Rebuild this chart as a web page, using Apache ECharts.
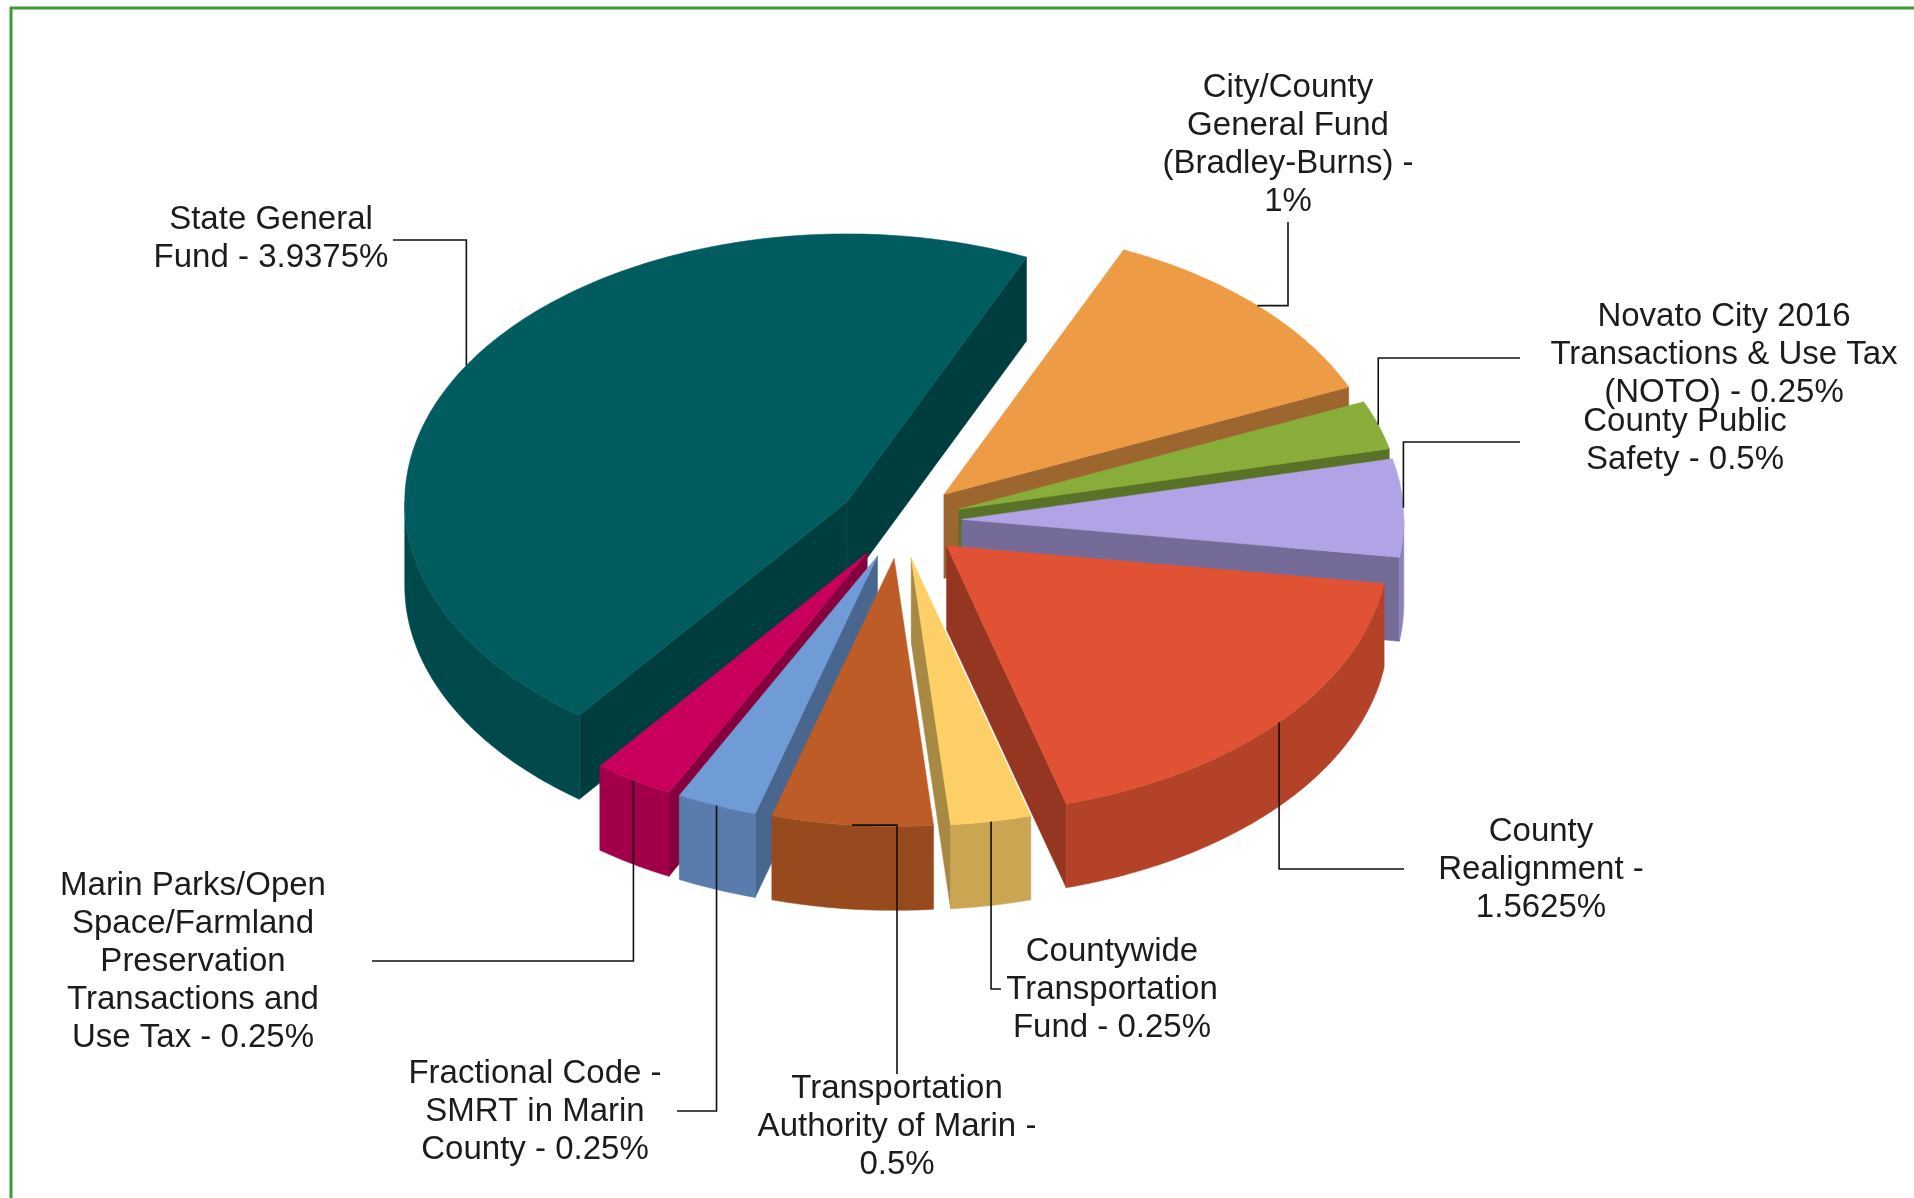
<!DOCTYPE html>
<html>
<head>
<meta charset="utf-8">
<title>Sales Tax Rate Breakdown</title>
<script src="https://cdn.jsdelivr.net/npm/echarts@6/dist/echarts.min.js"></script>
<style>
    html, body { margin: 0; padding: 0; background: #fff; }
    #main { width: 1914px; height: 1198px; }
</style>
</head>
<body>
<div id="main"></div>
<script>
//slice names, clockwise from the top right
var categories = [
    'City/County General Fund (Bradley-Burns)',
    'Novato City 2016 Transactions & Use Tax (NOTO)',
    'County Public Safety',
    'County Realignment',
    'Countywide Transportation Fund',
    'Transportation Authority of Marin',
    'Fractional Code - SMRT in Marin County',
    'Marin Parks/Open Space/Farmland Preservation Transactions and Use Tax',
    'State General Fund'
];
//tax rate of each slice (%)
var rates = [1, 0.25, 0.5, 1.5625, 0.25, 0.5, 0.25, 0.25, 3.9375];
//label text as printed on the chart
var labelLines = [
    ['City/County', 'General Fund', '(Bradley-Burns) -', '1%'],
    ['Novato City 2016', 'Transactions & Use Tax', '(NOTO) - 0.25%'],
    ['County Public', 'Safety - 0.5%'],
    ['County', 'Realignment -', '1.5625%'],
    ['Countywide', 'Transportation', 'Fund - 0.25%'],
    ['Transportation', 'Authority of Marin -', '0.5%'],
    ['Fractional Code -', 'SMRT in Marin', 'County - 0.25%'],
    ['Marin Parks/Open', 'Space/Farmland', 'Preservation', 'Transactions and', 'Use Tax - 0.25%'],
    ['State General', 'Fund - 3.9375%']
];
var colors = ['#EE9B46', '#88AD3B', '#B2A2E6', '#E05233', '#FDD067', '#BD5C26', '#6F9BD7', '#C9005B', '#005C5E'];

//pie geometry (pixels), angles clockwise from 12 o'clock
var pie = { cx: 900, cy: 521, rx: 442, ry: 268, depth: 84, explode: 0.14, startAngle: 24 };
//label centre, start of the leader line, and which way the line turns first
var labelPos = [
    { x: 1288, y: 145, sx: 1288, sy: 222, bend: 'v' },
    { x: 1724, y: 355, sx: 1520, sy: 358, bend: 'h' },
    { x: 1685, y: 441, sx: 1520, sy: 442, bend: 'h' },
    { x: 1541, y: 870, sx: 1404, sy: 869, bend: 'h' },
    { x: 1112, y: 990, sx: 1001, sy: 989, bend: 'h' },
    { x: 897, y: 1127, sx: 897, sy: 1074, bend: 'v' },
    { x: 535, y: 1112, sx: 677, sy: 1111, bend: 'h' },
    { x: 193, y: 962, sx: 372, sy: 961, bend: 'h' },
    { x: 271, y: 239, sx: 393, sy: 240, bend: 'h' }
];

var RAD = Math.PI / 180;
var angles = getAngles();

$ready();

function $ready() {
    var myChart = echarts.init(document.getElementById('main'), null, { renderer: 'canvas' });
    //back slices first
    var order = [];
    for (var i = 0; i < rates.length; i++) order.push(i);
    order.sort(function(a, b) {
        return Math.cos(midAngle(b) * RAD) - Math.cos(midAngle(a) * RAD);
    });
    var sliceData = order.map(function(i) { return [i, rates[i]]; });
    var labelData = rates.map(function(v, i) { return [i, v]; });

    var option = {
        backgroundColor: '#fff',
        animation: false,
        graphic: [{
            type: 'rect',
            shape: { x: 11, y: 8, width: 1960, height: 1260 },
            style: { fill: null, stroke: '#3b9a3b', lineWidth: 3 }
        }],
        series: [{
            type: 'custom',
            name: 'slices',
            coordinateSystem: 'none',
            z: 2,
            renderItem: renderSlice,
            data: sliceData
        }, {
            type: 'custom',
            name: 'labels',
            coordinateSystem: 'none',
            z: 5,
            renderItem: renderLabel,
            data: labelData
        }]
    };
    myChart.setOption(option);
}

//start and end angle of every slice
function getAngles() {
    var total = 0;
    for (var i = 0; i < rates.length; i++) total += rates[i];
    var res = [];
    var a = pie.startAngle;
    for (var j = 0; j < rates.length; j++) {
        var span = rates[j] / total * 360;
        res.push([a, a + span]);
        a += span;
    }
    return res;
}

function midAngle(i) {
    return (angles[i][0] + angles[i][1]) / 2;
}

//centre of a slice after it is pulled out
function sliceOrigin(i) {
    var m = midAngle(i) * RAD;
    return [pie.cx + pie.explode * pie.rx * Math.sin(m), pie.cy - pie.explode * pie.ry * Math.cos(m)];
}

function rimPoint(o, deg, down) {
    return [o[0] + pie.rx * Math.sin(deg * RAD), o[1] - pie.ry * Math.cos(deg * RAD) + (down || 0)];
}

function arcPoints(o, a0, a1, down) {
    var pts = [];
    for (var d = a0; d < a1; d += 1) pts.push(rimPoint(o, d, down));
    pts.push(rimPoint(o, a1, down));
    return pts;
}

function shade(hex, f) {
    var n = parseInt(hex.slice(1), 16);
    var r = Math.round(((n >> 16) & 255) * f);
    var g = Math.round(((n >> 8) & 255) * f);
    var b = Math.round((n & 255) * f);
    return 'rgb(' + r + ',' + g + ',' + b + ')';
}

function radialWall(o, deg, color) {
    var p = rimPoint(o, deg);
    return {
        type: 'polygon',
        shape: { points: [o, p, [p[0], p[1] + pie.depth], [o[0], o[1] + pie.depth]] },
        style: { fill: color, stroke: color, lineWidth: 0.5 }
    };
}

//draw one slice: side walls, then the top face
function renderSlice(params, api) {
    var i = api.value(0);
    var a0 = angles[i][0], a1 = angles[i][1];
    var o = sliceOrigin(i);
    var base = colors[i];
    var children = [];

    if (Math.sin(a0 * RAD) < 0) children.push(radialWall(o, a0, shade(base, 0.66)));
    if (Math.sin(a1 * RAD) > 0) children.push(radialWall(o, a1, shade(base, 0.66)));

    //outer wall only where it faces the viewer
    var ranges = [[90, 270], [450, 630]];
    for (var k = 0; k < ranges.length; k++) {
        var b0 = Math.max(a0, ranges[k][0]);
        var b1 = Math.min(a1, ranges[k][1]);
        if (b1 > b0) {
            var top = arcPoints(o, b0, b1, 0);
            var bottom = arcPoints(o, b0, b1, pie.depth).reverse();
            children.push({
                type: 'polygon',
                shape: { points: top.concat(bottom) },
                style: { fill: shade(base, 0.8), stroke: shade(base, 0.8), lineWidth: 0.5 }
            });
        }
    }

    children.push({
        type: 'polygon',
        shape: { points: [o].concat(arcPoints(o, a0, a1, 0)) },
        style: { fill: base, stroke: base, lineWidth: 0.5 }
    });
    return { type: 'group', children: children };
}

//leader line and text of one slice
function renderLabel(params, api) {
    var i = api.value(0);
    var pos = labelPos[i];
    var anchor = rimPoint(sliceOrigin(i), midAngle(i));
    var corner = pos.bend === 'h' ? [anchor[0], pos.sy] : [pos.sx, anchor[1]];
    return {
        type: 'group',
        children: [{
            type: 'polyline',
            shape: { points: [[pos.sx, pos.sy], corner, anchor] },
            style: { fill: null, stroke: '#111', lineWidth: 1.6 }
        }, {
            type: 'text',
            style: {
                text: labelLines[i].join('\n'),
                x: pos.x,
                y: pos.y,
                fill: '#1c1c1c',
                font: '33px "Liberation Sans", Arial, sans-serif',
                lineHeight: 38,
                align: 'center',
                verticalAlign: 'middle',
                textAlign: 'center',
                textVerticalAlign: 'middle'
            }
        }]
    };
}
</script>
</body>
</html>
